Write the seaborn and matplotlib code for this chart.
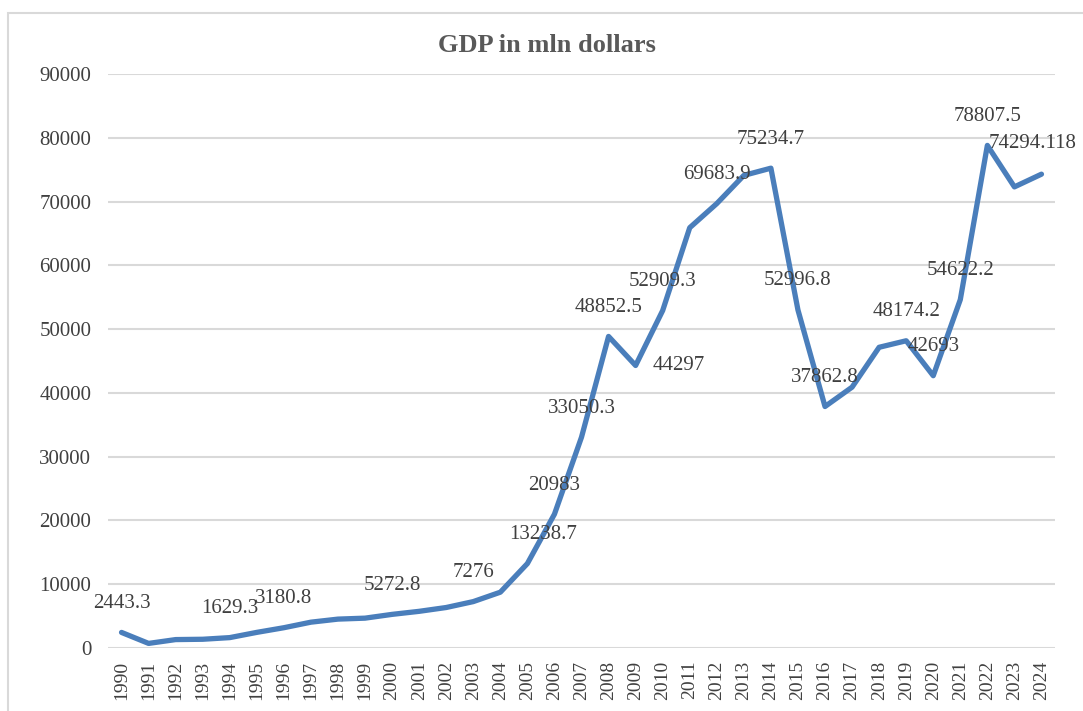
import matplotlib
matplotlib.use("Agg")
import matplotlib.pyplot as plt
import seaborn as sns
import pandas as pd
from matplotlib.patches import Rectangle

years = list(range(1990, 2025))
gdp = [2443.3, 720, 1320, 1370, 1629.3, 2450, 3180.8, 4050, 4530, 4680,
       5272.8, 5750, 6350, 7276, 8750, 13238.7, 20983, 33050.3, 48852.5, 44297,
       52909.3, 65900, 69683.9, 74100, 75234.7, 52996.8, 37862.8, 40900, 47150, 48174.2,
       42693, 54622.2, 78807.5, 72300, 74294.118]

# which points carry a value label, and how the label is shifted (px)
label_years = [1990, 1994, 1996, 2000, 2003, 2005, 2006, 2007, 2008, 2009,
               2010, 2012, 2014, 2015, 2016, 2019, 2020, 2021, 2022, 2024]
label_text = ["2443.3", "1629.3", "3180.8", "5272.8", "7276", "13238.7", "20983", "33050.3",
              "48852.5", "44297", "52909.3", "69683.9", "75234.7", "52996.8", "37862.8",
              "48174.2", "42693", "54622.2", "78807.5", "74294.118"]
label_shift = {2005: (16, 29), 2009: (43, 0), 2024: (-9, 31)}

df = pd.DataFrame({"year": years, "gdp": gdp})

sns.set_style("white")
plt.rcParams["font.family"] = ["Liberation Serif", "DejaVu Serif"]

fig = plt.figure(figsize=(10.83, 7.11), dpi=100)
ax = fig.add_axes([108 / 1083, 1 - 648 / 711, 947 / 1083, 574 / 711])

# outer chart frame (cut off on the right and bottom)
fig.patches.append(Rectangle((8 / 1083, -0.1), 1.2, 1.1 - 13 / 711, transform=fig.transFigure,
                             fill=False, edgecolor="#d9d9d9", linewidth=1.5))

sns.lineplot(data=df, x="year", y="gdp", ax=ax, color="#4a7ebb", linewidth=3.8,
             solid_joinstyle="round", solid_capstyle="round")

ax.set_xlim(1989.5, 2024.5)
ax.set_ylim(0, 90000)
ax.set_yticks(range(0, 90001, 10000))
ax.set_yticklabels([str(v) for v in range(0, 90001, 10000)], fontsize=15, color="#404040")
ax.set_xticks(years)
ax.set_xticklabels([str(y) for y in years], rotation=90, fontsize=14, color="#404040")
ax.tick_params(axis="y", length=0, pad=12)
ax.tick_params(axis="x", length=0, pad=9)
ax.grid(axis="y", color="#d9d9d9", linewidth=1.5)
ax.set_axisbelow(True)
for s in ax.spines.values():
    s.set_visible(False)
ax.set_xlabel("")
ax.set_ylabel("")

for yr, txt in zip(label_years, label_text):
    dx, dy = label_shift.get(yr, (0, 29))
    ax.annotate(txt, (yr, gdp[years.index(yr)]), xytext=(dx * 0.72, dy * 0.72),
                textcoords="offset points", ha="center", va="center",
                fontsize=15, color="#404040", annotation_clip=False)

fig.text(547 / 1083, 1 - 46 / 711, "GDP in mln dollars", ha="center", va="center",
         fontsize=19, fontweight="bold", color="#595959")

fig.savefig("out.png", dpi=100)
